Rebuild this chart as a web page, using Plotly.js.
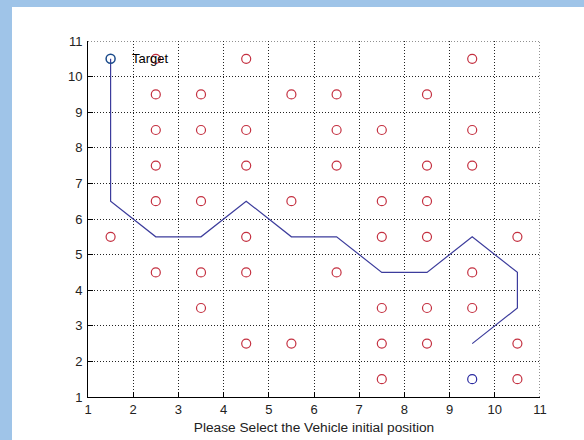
<!DOCTYPE html>
<html>
<head>
<meta charset="utf-8">
<script src="https://cdn.plot.ly/plotly-3.0.1.min.js"></script>
<style>
html,body{margin:0;padding:0;background:#9fc4e8;width:584px;height:440px;overflow:hidden;}
#plot{position:absolute;left:12px;top:7px;width:572px;height:433px;background:#fff;}
</style>
</head>
<body>
<div id="plot"></div>
<script>
// Obstacles (red circles)
const obsX = [2.5,4.5,9.5, 2.5,3.5,5.5,6.5,8.5, 2.5,3.5,4.5,6.5,7.5,9.5, 2.5,4.5,6.5,8.5,9.5,
              2.5,3.5,5.5,7.5,8.5, 1.5,4.5,7.5,8.5,10.5, 2.5,3.5,4.5,6.5,9.5, 3.5,7.5,8.5,9.5,
              4.5,5.5,7.5,8.5,10.5, 7.5,10.5];
const obsY = [10.5,10.5,10.5, 9.5,9.5,9.5,9.5,9.5, 8.5,8.5,8.5,8.5,8.5,8.5, 7.5,7.5,7.5,7.5,7.5,
              6.5,6.5,6.5,6.5,6.5, 5.5,5.5,5.5,5.5,5.5, 4.5,4.5,4.5,4.5,4.5, 3.5,3.5,3.5,3.5,
              2.5,2.5,2.5,2.5,2.5, 1.5,1.5];
// Path
const pathX = [1.5,1.5,2.5,3.5,4.5,5.5,6.5,7.5,8.5,9.5,10.5,10.5,9.5];
const pathY = [10.5,6.5,5.5,5.5,6.5,5.5,5.5,4.5,4.5,5.5,4.5,3.5,2.5];
// Target and vehicle
const targetX = [1.5], targetY = [10.5];
const vehicleX = [9.5], vehicleY = [1.5];
const ticks = [1,2,3,4,5,6,7,8,9,10,11];

const FONT = 'Liberation Sans, Arial, Helvetica, sans-serif';
const DOT = '1px,2px';

const traces = [
  {x: obsX, y: obsY, mode:'markers', type:'scatter',
   marker:{symbol:'circle-open', size:9, color:'#c43040', line:{width:1.2}}},
  {x: pathX, y: pathY, mode:'lines', type:'scatter', line:{color:'#3c3c9c', width:1.2}},
  {x: targetX, y: targetY, mode:'markers', type:'scatter',
   marker:{symbol:'circle-open', size:9, color:'#1a4a8a', line:{width:1.5}}},
  {x: vehicleX, y: vehicleY, mode:'markers', type:'scatter',
   marker:{symbol:'circle-open', size:9, color:'#2a2aa0', line:{width:1.2}}}
];

const axBase = {
  range:[1,11], tickvals: ticks, ticktext: ticks.map(String),
  showgrid:true, gridcolor:'#222', griddash:DOT, gridwidth:1,
  showline:true, linecolor:'#000', linewidth:1,
  ticks:'inside', ticklen:5, tickcolor:'#000', mirror:false,
  zeroline:false, fixedrange:true,
  tickfont:{family:FONT, size:13, color:'#222'}
};

const layout = {
  width:572, height:433,
  margin:{l:76, r:44, t:34, b:43},
  paper_bgcolor:'#fff', plot_bgcolor:'#fff',
  showlegend:false,
  xaxis: Object.assign({}, axBase, {
    title:{text:'Please Select the Vehicle initial position', standoff:6,
           font:{family:FONT, size:13.7, color:'#222'}}
  }),
  yaxis: Object.assign({}, axBase, {ticklabelstandoff:2}),
  annotations:[{x:2, y:10.5, xref:'x', yref:'y', text:'Target', showarrow:false,
    xanchor:'left', yanchor:'middle', xshift:-3,
    font:{family:FONT, size:13, color:'#000'}}],
  shapes:[
    {type:'line', xref:'x', yref:'y', x0:1, x1:11, y0:11, y1:11, line:{color:'#222', width:1, dash:DOT}},
    {type:'line', xref:'x', yref:'y', x0:11, x1:11, y0:1, y1:11, line:{color:'#222', width:1, dash:DOT}}
  ]
};

Plotly.newPlot('plot', traces, layout, {displayModeBar:false, staticPlot:true});
</script>
</body>
</html>
